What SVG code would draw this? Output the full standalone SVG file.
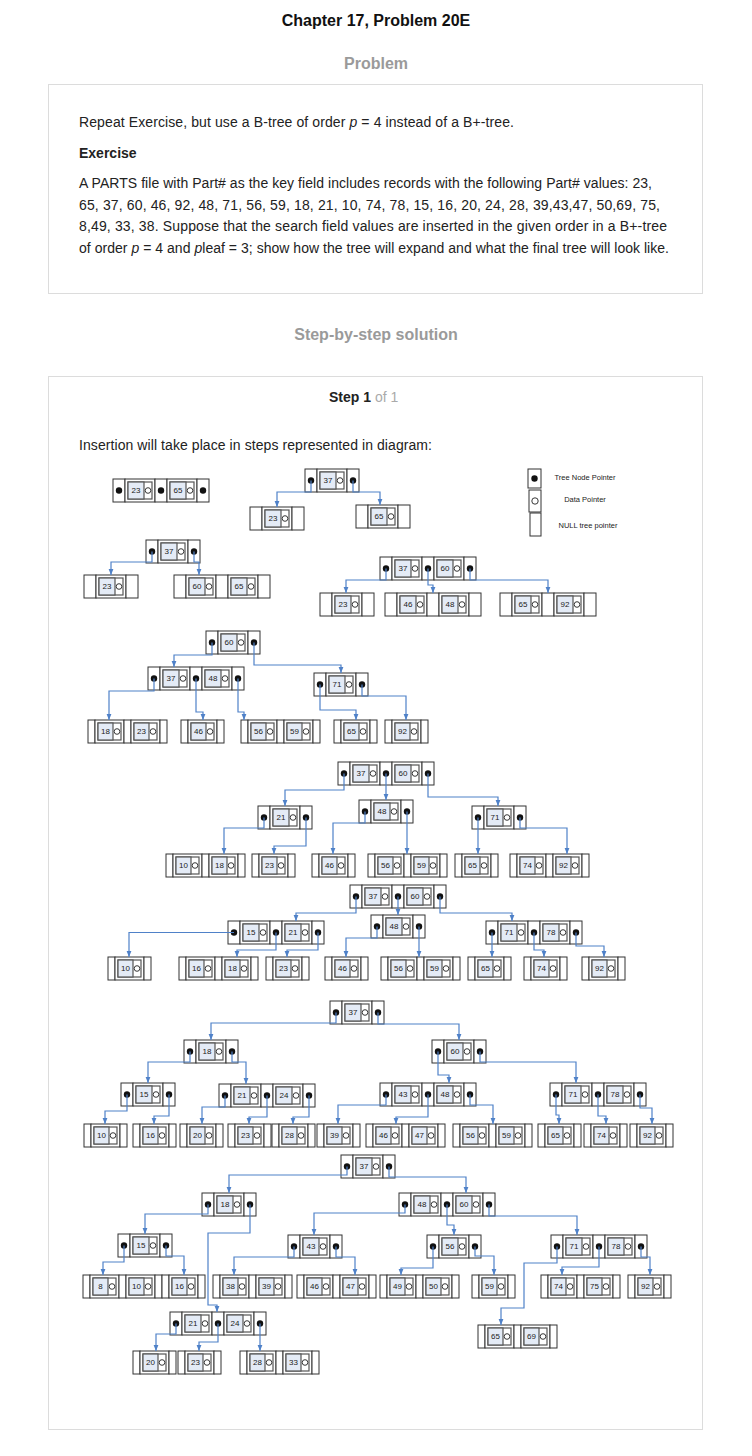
<svg xmlns="http://www.w3.org/2000/svg" width="752" height="1456" viewBox="0 0 752 1456">
<style>
.c{fill:#fff;stroke:#333;stroke-width:1}
.d{fill:#fff;stroke:#555;stroke-width:1.2}
.b{fill:#e4ebf6;stroke:#555;stroke-width:1.2}
.o{fill:#fff;stroke:#222;stroke-width:0.9}
.k{font-family:"Liberation Sans",Arial,sans-serif;font-size:8px;fill:#222;text-anchor:middle}
.e path{fill:none;stroke:#4f81c8;stroke-width:1.2;marker-end:url(#a)}
.tx{font-family:"Liberation Sans",Arial,sans-serif;font-size:14px;fill:#222}
.h{font-family:"Liberation Sans",Arial,sans-serif;font-size:16px;font-weight:bold;text-anchor:middle}
.lg{font-family:"Liberation Sans",Arial,sans-serif;font-size:7.5px;fill:#222;text-anchor:middle}
.box{fill:#fff;stroke:#dcdcdc;stroke-width:1}
</style>
<defs>
<marker id="a" viewBox="0 0 10 10" refX="10" refY="5" markerWidth="6" markerHeight="6" markerUnits="userSpaceOnUse" orient="auto"><path d="M0,1L10,5L0,9z" fill="#4f81c8"/></marker>
<g id="p"><rect class="c" width="12" height="23"/><circle cx="6" cy="11.5" r="3.2" fill="#111"/></g>
<rect id="n7" class="c" width="7" height="23"/>
<rect id="n12" class="c" width="12" height="23"/>
<g id="k"><rect class="c" width="30" height="23"/><rect class="d" x="3" y="3" width="24" height="17"/><rect class="b" x="3" y="3" width="16" height="17"/><circle class="o" cx="23" cy="11.5" r="2.8"/></g>
<g id="kl"><rect class="c" width="29" height="23"/><rect class="d" x="3" y="3" width="23" height="17"/><rect class="b" x="3" y="3" width="15" height="17"/><circle class="o" cx="22" cy="11.5" r="2.8"/></g>
<g id="I1"><use href="#p"/><use href="#k" x="12"/><use href="#p" x="42"/></g>
<g id="I2"><use href="#p"/><use href="#k" x="12"/><use href="#p" x="42"/><use href="#k" x="54"/><use href="#p" x="84"/></g>
<g id="W1"><use href="#n12"/><use href="#k" x="12"/><use href="#n12" x="42"/></g>
<g id="W2"><use href="#n12"/><use href="#k" x="12"/><use href="#n12" x="42"/><use href="#k" x="54"/><use href="#n12" x="84"/></g>
<g id="L1"><use href="#n7"/><use href="#kl" x="7"/><use href="#n7" x="36"/></g>
<g id="L2"><use href="#n7"/><use href="#kl" x="7"/><use href="#n7" x="36"/><use href="#kl" x="43"/><use href="#n7" x="72"/></g>
</defs>
<rect width="752" height="1456" fill="#fff"/>

<text class="h" x="376" y="26" fill="#111">Chapter 17, Problem 20E</text>
<text class="h" x="376" y="69" fill="#9a9a9a">Problem</text>
<rect class="box" x="48.5" y="84.5" width="654" height="209"/>
<text class="tx" x="79" y="127" textLength="435" lengthAdjust="spacing">Repeat Exercise, but use a B-tree of order <tspan font-style="italic">p</tspan> = 4 instead of a B+-tree.</text>
<text class="tx" x="79" y="158" font-weight="bold" fill="#111">Exercise</text>
<text class="tx" x="79" y="188" textLength="573" lengthAdjust="spacing">A PARTS file with Part# as the key field includes records with the following Part# values: 23,</text>
<text class="tx" x="79" y="209.5" textLength="581" lengthAdjust="spacing">65, 37, 60, 46, 92, 48, 71, 56, 59, 18, 21, 10, 74, 78, 15, 16, 20, 24, 28, 39,43,47, 50,69, 75,</text>
<text class="tx" x="79" y="231" textLength="588" lengthAdjust="spacing">8,49, 33, 38. Suppose that the search field values are inserted in the given order in a B+-tree</text>
<text class="tx" x="79" y="253" textLength="590" lengthAdjust="spacing">of order <tspan font-style="italic">p</tspan> = 4 and <tspan font-style="italic">p</tspan>leaf = 3; show how the tree will expand and what the final tree will look like.</text>
<text class="h" x="376" y="340" fill="#9a9a9a">Step-by-step solution</text>
<rect class="box" x="48.5" y="376.5" width="654" height="1053"/>
<text class="tx" x="329" y="402" font-weight="bold" fill="#111">Step 1<tspan font-weight="normal" fill="#aaa"> of 1</tspan></text>
<text class="tx" x="79" y="450" textLength="353" lengthAdjust="spacing">Insertion will take place in steps represented in diagram:</text>

<g id="legend">
<rect class="c" x="528" y="469" width="13" height="19"/><circle cx="534.5" cy="478.5" r="3.2" fill="#111"/>
<text class="lg" x="585" y="479.5">Tree Node Pointer</text>
<rect class="c" x="529" y="490" width="12" height="22"/><circle class="o" cx="535" cy="501" r="3.2"/>
<text class="lg" x="585" y="502">Data Pointer</text>
<rect class="c" x="530" y="513" width="11" height="23"/>
<text class="lg" x="588" y="528">NULL tree pointer</text>
</g>

<!-- Tree 1 -->
<g id="t1-23-65" transform="translate(113,479)"><use href="#I2"/><text class="k" x="23" y="14">23</text><text class="k" x="65" y="14">65</text></g>
<!-- Tree 2 -->
<g id="t2-37" transform="translate(305,469)"><use href="#I1"/><text class="k" x="23" y="14">37</text></g>
<g id="t2-23" transform="translate(250,507)"><use href="#W1"/><text class="k" x="23" y="14">23</text></g>
<g id="t2-65" transform="translate(356,505)"><use href="#W1"/><text class="k" x="23" y="14">65</text></g>
<!-- Tree 3a -->
<g id="t3a-37" transform="translate(146,540)"><use href="#I1"/><text class="k" x="23" y="14">37</text></g>
<g id="t3a-23" transform="translate(84,575)"><use href="#W1"/><text class="k" x="23" y="14">23</text></g>
<g id="t3a-60-65" transform="translate(174,575)"><use href="#W2"/><text class="k" x="23" y="14">60</text><text class="k" x="65" y="14">65</text></g>
<!-- Tree 3b -->
<g id="t3b-37-60" transform="translate(380,557)"><use href="#I2"/><text class="k" x="23" y="14">37</text><text class="k" x="65" y="14">60</text></g>
<g id="t3b-23" transform="translate(320,593)"><use href="#W1"/><text class="k" x="23" y="14">23</text></g>
<g id="t3b-46-48" transform="translate(385,593)"><use href="#W2"/><text class="k" x="23" y="14">46</text><text class="k" x="65" y="14">48</text></g>
<g id="t3b-65-92" transform="translate(500,593)"><use href="#W2"/><text class="k" x="23" y="14">65</text><text class="k" x="65" y="14">92</text></g>
<!-- Tree 4 -->
<g id="t4-60" transform="translate(206,631)"><use href="#I1"/><text class="k" x="23" y="14">60</text></g>
<g id="t4-37-48" transform="translate(148,667)"><use href="#I2"/><text class="k" x="23" y="14">37</text><text class="k" x="65" y="14">48</text></g>
<g id="t4-71" transform="translate(314,673)"><use href="#I1"/><text class="k" x="23" y="14">71</text></g>
<g id="t4-18-23" transform="translate(88,720)"><use href="#L2"/><text class="k" x="17.5" y="14">18</text><text class="k" x="53.5" y="14">23</text></g>
<g id="t4-46" transform="translate(181,720)"><use href="#L1"/><text class="k" x="17.5" y="14">46</text></g>
<g id="t4-56-59" transform="translate(241,720)"><use href="#L2"/><text class="k" x="17.5" y="14">56</text><text class="k" x="53.5" y="14">59</text></g>
<g id="t4-65" transform="translate(334,720)"><use href="#L1"/><text class="k" x="17.5" y="14">65</text></g>
<g id="t4-92" transform="translate(385,720)"><use href="#L1"/><text class="k" x="17.5" y="14">92</text></g>
<!-- Tree 5 -->
<g id="t5-37-60" transform="translate(338,762)"><use href="#I2"/><text class="k" x="23" y="14">37</text><text class="k" x="65" y="14">60</text></g>
<g id="t5-21" transform="translate(258,806)"><use href="#I1"/><text class="k" x="23" y="14">21</text></g>
<g id="t5-48" transform="translate(359,800)"><use href="#I1"/><text class="k" x="23" y="14">48</text></g>
<g id="t5-71" transform="translate(472,806)"><use href="#I1"/><text class="k" x="23" y="14">71</text></g>
<g id="t5-10-18" transform="translate(166,854)"><use href="#L2"/><text class="k" x="17.5" y="14">10</text><text class="k" x="53.5" y="14">18</text></g>
<g id="t5-23" transform="translate(252,854)"><use href="#L1"/><text class="k" x="17.5" y="14">23</text></g>
<g id="t5-46" transform="translate(312,854)"><use href="#L1"/><text class="k" x="17.5" y="14">46</text></g>
<g id="t5-56-59" transform="translate(368,854)"><use href="#L2"/><text class="k" x="17.5" y="14">56</text><text class="k" x="53.5" y="14">59</text></g>
<g id="t5-65" transform="translate(455,854)"><use href="#L1"/><text class="k" x="17.5" y="14">65</text></g>
<g id="t5-74-92" transform="translate(510,854)"><use href="#L2"/><text class="k" x="17.5" y="14">74</text><text class="k" x="53.5" y="14">92</text></g>
<!-- Tree 6 -->
<g id="t6-37-60" transform="translate(350,885)"><use href="#I2"/><text class="k" x="23" y="14">37</text><text class="k" x="65" y="14">60</text></g>
<g id="t6-15-21" transform="translate(228,921)"><use href="#I2"/><text class="k" x="23" y="14">15</text><text class="k" x="65" y="14">21</text></g>
<g id="t6-48" transform="translate(371,915)"><use href="#I1"/><text class="k" x="23" y="14">48</text></g>
<g id="t6-71-78" transform="translate(486,921)"><use href="#I2"/><text class="k" x="23" y="14">71</text><text class="k" x="65" y="14">78</text></g>
<g id="t6-10" transform="translate(108,957)"><use href="#L1"/><text class="k" x="17.5" y="14">10</text></g>
<g id="t6-16-18" transform="translate(179,957)"><use href="#L2"/><text class="k" x="17.5" y="14">16</text><text class="k" x="53.5" y="14">18</text></g>
<g id="t6-23" transform="translate(266,957)"><use href="#L1"/><text class="k" x="17.5" y="14">23</text></g>
<g id="t6-46" transform="translate(325,957)"><use href="#L1"/><text class="k" x="17.5" y="14">46</text></g>
<g id="t6-56-59" transform="translate(381,957)"><use href="#L2"/><text class="k" x="17.5" y="14">56</text><text class="k" x="53.5" y="14">59</text></g>
<g id="t6-65" transform="translate(468,957)"><use href="#L1"/><text class="k" x="17.5" y="14">65</text></g>
<g id="t6-74" transform="translate(524,957)"><use href="#L1"/><text class="k" x="17.5" y="14">74</text></g>
<g id="t6-92" transform="translate(582,957)"><use href="#L1"/><text class="k" x="17.5" y="14">92</text></g>
<!-- Tree 7 -->
<g id="t7-37" transform="translate(330,1001)"><use href="#I1"/><text class="k" x="23" y="14">37</text></g>
<g id="t7-18" transform="translate(184,1040)"><use href="#I1"/><text class="k" x="23" y="14">18</text></g>
<g id="t7-60" transform="translate(432,1040)"><use href="#I1"/><text class="k" x="23" y="14">60</text></g>
<g id="t7-15" transform="translate(121,1083)"><use href="#I1"/><text class="k" x="23" y="14">15</text></g>
<g id="t7-21-24" transform="translate(219,1084)"><use href="#I2"/><text class="k" x="23" y="14">21</text><text class="k" x="65" y="14">24</text></g>
<g id="t7-43-48" transform="translate(380,1083)"><use href="#I2"/><text class="k" x="23" y="14">43</text><text class="k" x="65" y="14">48</text></g>
<g id="t7-71-78" transform="translate(550,1083)"><use href="#I2"/><text class="k" x="23" y="14">71</text><text class="k" x="65" y="14">78</text></g>
<g id="t7-10" transform="translate(84,1124)"><use href="#L1"/><text class="k" x="17.5" y="14">10</text></g>
<g id="t7-16" transform="translate(133,1124)"><use href="#L1"/><text class="k" x="17.5" y="14">16</text></g>
<g id="t7-20" transform="translate(180,1124)"><use href="#L1"/><text class="k" x="17.5" y="14">20</text></g>
<g id="t7-23" transform="translate(228,1124)"><use href="#L1"/><text class="k" x="17.5" y="14">23</text></g>
<g id="t7-28" transform="translate(272,1124)"><use href="#L1"/><text class="k" x="17.5" y="14">28</text></g>
<g id="t7-39" transform="translate(317,1124)"><use href="#L1"/><text class="k" x="17.5" y="14">39</text></g>
<g id="t7-46-47" transform="translate(366,1124)"><use href="#L2"/><text class="k" x="17.5" y="14">46</text><text class="k" x="53.5" y="14">47</text></g>
<g id="t7-56-59" transform="translate(453,1124)"><use href="#L2"/><text class="k" x="17.5" y="14">56</text><text class="k" x="53.5" y="14">59</text></g>
<g id="t7-65" transform="translate(538,1124)"><use href="#L1"/><text class="k" x="17.5" y="14">65</text></g>
<g id="t7-74" transform="translate(584,1124)"><use href="#L1"/><text class="k" x="17.5" y="14">74</text></g>
<g id="t7-92" transform="translate(630,1124)"><use href="#L1"/><text class="k" x="17.5" y="14">92</text></g>
<!-- Tree 8 -->
<g id="t8-37" transform="translate(341,1155)"><use href="#I1"/><text class="k" x="23" y="14">37</text></g>
<g id="t8-18" transform="translate(202,1193)"><use href="#I1"/><text class="k" x="23" y="14">18</text></g>
<g id="t8-48-60" transform="translate(399,1193)"><use href="#I2"/><text class="k" x="23" y="14">48</text><text class="k" x="65" y="14">60</text></g>
<g id="t8-15" transform="translate(118,1234)"><use href="#I1"/><text class="k" x="23" y="14">15</text></g>
<g id="t8-43" transform="translate(288,1235)"><use href="#I1"/><text class="k" x="23" y="14">43</text></g>
<g id="t8-56" transform="translate(427,1235)"><use href="#I1"/><text class="k" x="23" y="14">56</text></g>
<g id="t8-71-78" transform="translate(551,1235)"><use href="#I2"/><text class="k" x="23" y="14">71</text><text class="k" x="65" y="14">78</text></g>
<g id="t8-8-10" transform="translate(83,1275)"><use href="#L2"/><text class="k" x="17.5" y="14">8</text><text class="k" x="53.5" y="14">10</text></g>
<g id="t8-16" transform="translate(162,1275)"><use href="#L1"/><text class="k" x="17.5" y="14">16</text></g>
<g id="t8-38-39" transform="translate(213,1275)"><use href="#L2"/><text class="k" x="17.5" y="14">38</text><text class="k" x="53.5" y="14">39</text></g>
<g id="t8-46-47" transform="translate(297,1275)"><use href="#L2"/><text class="k" x="17.5" y="14">46</text><text class="k" x="53.5" y="14">47</text></g>
<g id="t8-49-50" transform="translate(380,1275)"><use href="#L2"/><text class="k" x="17.5" y="14">49</text><text class="k" x="53.5" y="14">50</text></g>
<g id="t8-59" transform="translate(472,1275)"><use href="#L1"/><text class="k" x="17.5" y="14">59</text></g>
<g id="t8-74-75" transform="translate(541,1275)"><use href="#L2"/><text class="k" x="17.5" y="14">74</text><text class="k" x="53.5" y="14">75</text></g>
<g id="t8-92" transform="translate(628,1275)"><use href="#L1"/><text class="k" x="17.5" y="14">92</text></g>
<g id="t8-21-24" transform="translate(170,1312)"><use href="#I2"/><text class="k" x="23" y="14">21</text><text class="k" x="65" y="14">24</text></g>
<g id="t8-20" transform="translate(133,1351)"><use href="#L1"/><text class="k" x="17.5" y="14">20</text></g>
<g id="t8-23" transform="translate(178,1351)"><use href="#L1"/><text class="k" x="17.5" y="14">23</text></g>
<g id="t8-28-33" transform="translate(240,1351)"><use href="#L2"/><text class="k" x="17.5" y="14">28</text><text class="k" x="53.5" y="14">33</text></g>
<g id="t8-65-69" transform="translate(478,1325)"><use href="#L2"/><text class="k" x="17.5" y="14">65</text><text class="k" x="53.5" y="14">69</text></g>

<g id="connectors" class="e">
<path d="M311,480.5V492H277V507"/>
<path d="M353,480.5V492H380V505"/>
<path d="M152,551.5V562H111V575"/>
<path d="M194,551.5V562H199V575"/>
<path d="M386,568.5V580H346V593"/>
<path d="M428,568.5V585H433V593"/>
<path d="M470,568.5V580H548V593"/>
<path d="M212,642.5V655H174V667"/>
<path d="M254,642.5V665H341V673"/>
<path d="M154,678.5V691H109V720"/>
<path d="M196,678.5V712H203V720"/>
<path d="M238,678.5V712H244V720"/>
<path d="M320,684.5V710H356V720"/>
<path d="M362,684.5V696H406V720"/>
<path d="M344,773.5V790H285V806"/>
<path d="M386,773.5V800"/>
<path d="M428,773.5V797H498V806"/>
<path d="M264,817.5V828H224V854"/>
<path d="M306,817.5V846H274V854"/>
<path d="M365,811.5V823H333V854"/>
<path d="M407,811.5V854"/>
<path d="M478,817.5V854"/>
<path d="M520,817.5V828H567V854"/>
<path d="M356,896.5V913H296V921"/>
<path d="M398,896.5V915"/>
<path d="M440,896.5V913H512V921"/>
<path d="M234,932.5H129V957"/>
<path d="M276,932.5V950H237V957"/>
<path d="M318,932.5V950H287V957"/>
<path d="M377,926.5V938H346V957"/>
<path d="M419,926.5V957"/>
<path d="M492,932.5V957"/>
<path d="M534,932.5V950H544V957"/>
<path d="M576,932.5V946H604V957"/>
<path d="M336,1012.5V1023H211V1040"/>
<path d="M378,1012.5V1024H459V1040"/>
<path d="M190,1051.5V1062H148V1083"/>
<path d="M232,1051.5V1062H246V1084"/>
<path d="M438,1051.5V1075H449V1083"/>
<path d="M480,1051.5V1062H576V1083"/>
<path d="M127,1094.5V1111H105V1124"/>
<path d="M169,1094.5V1116H154V1124"/>
<path d="M225,1095.5V1107H202V1124"/>
<path d="M267,1095.5V1117H249V1124"/>
<path d="M309,1095.5V1117H293V1124"/>
<path d="M386,1094.5V1105H338V1124"/>
<path d="M428,1094.5V1117H396V1124"/>
<path d="M470,1094.5V1105H493V1124"/>
<path d="M556,1094.5V1115H559V1124"/>
<path d="M598,1094.5V1116H606V1124"/>
<path d="M640,1094.5V1108H652V1124"/>
<path d="M347,1166.5V1175H229V1193"/>
<path d="M389,1166.5V1177H466V1193"/>
<path d="M208,1204.5V1214H145V1234"/>
<path d="M250,1204.5V1233H208V1305H217V1312"/>
<path d="M405,1204.5V1213H314V1235"/>
<path d="M447,1204.5V1225H454V1235"/>
<path d="M489,1204.5V1216H577V1235"/>
<path d="M124,1245.5V1262H103V1275"/>
<path d="M166,1245.5V1256H184V1275"/>
<path d="M294,1246.5V1257H234V1275"/>
<path d="M336,1246.5V1257H355V1275"/>
<path d="M433,1246.5V1268H401V1275"/>
<path d="M475,1246.5V1256H494V1275"/>
<path d="M557,1246.5V1263H524V1308H501V1325"/>
<path d="M599,1246.5V1267H562V1275"/>
<path d="M641,1246.5V1257H650V1275"/>
<path d="M176,1323.5V1334H156V1351"/>
<path d="M218,1323.5V1342H199V1351"/>
<path d="M260,1323.5V1351"/>
</g>
</svg>
